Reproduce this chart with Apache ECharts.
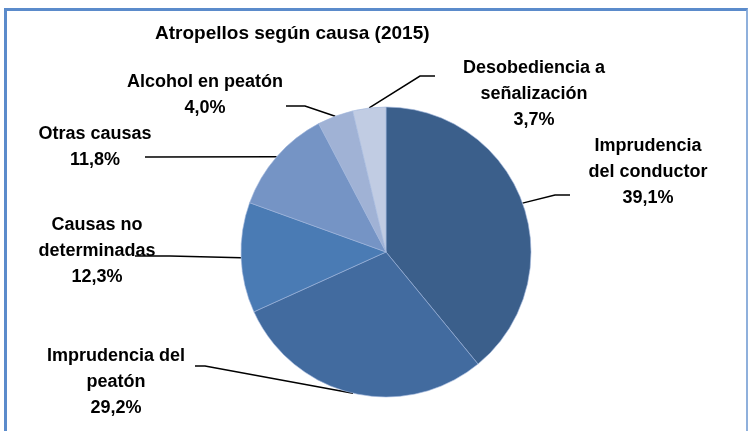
<!DOCTYPE html>
<html>
<head>
<meta charset="utf-8">
<script src="https://cdn.jsdelivr.net/npm/echarts@6/dist/echarts.min.js"></script>
<style>
  html, body { margin: 0; padding: 0; background: #fff; }
  #chart { width: 749px; height: 431px; }
  /* marco azul del gráfico original */
  .frame {
    position: absolute;
    left: 4px;
    top: 8px;
    width: 739px;
    height: 440px;
    border-top: 3px solid #5b8bcb;
    border-left: 3px solid #5b8bcb;
    border-right: 2px solid #8fb0dc;
    pointer-events: none;
  }
</style>
</head>
<body>
<div id="chart"></div>
<div class="frame"></div>
<script>
// --- datos ---
const categories = [
  'Imprudencia\ndel conductor',
  'Imprudencia del\npeatón',
  'Causas no\ndeterminadas',
  'Otras causas',
  'Alcohol en peatón',
  'Desobediencia a\nseñalización'
];
const values = [39.1, 29.2, 12.3, 11.8, 4.0, 3.7];

const colors = ['#3b5f8b', '#426b9f', '#4a7bb4', '#7594c5', '#a0b2d5', '#c1cce3'];

// posición de cada etiqueta (centro del bloque de texto)
const labelPos = [
  [648, 172],
  [116, 382],
  [97, 251],
  [95, 147],
  [205, 95],
  [534, 94]
];
// codo y extremo de cada línea guía
const guideEnds = [
  [[555, 195], [570, 195]],
  [[205, 366], [195, 366]],
  [[170, 256], [135, 256]],
  [[150, 157], [145, 157]],
  [[305, 106], [286, 106]],
  [[420, 76], [435, 76]]
];

const FONT = '"Liberation Sans", Arial, sans-serif';

const chart = echarts.init(document.getElementById('chart'));

chart.setOption({
  backgroundColor: '#fff',
  animation: false,
  title: {
    text: 'Atropellos según causa (2015)',
    left: 150,
    top: 19,
    textStyle: {
      color: '#000',
      fontFamily: FONT,
      fontSize: 19,
      fontWeight: 'bold'
    }
  },
  series: [{
    type: 'pie',
    center: [386, 252],
    radius: 145,
    startAngle: 90,
    clockwise: true,
    data: categories.map((name, i) => ({
      name: name,
      value: values[i],
      itemStyle: { color: colors[i] }
    })),
    itemStyle: {
      borderColor: '#9fb6dc',
      borderWidth: 0.6
    },
    label: {
      show: true,
      position: 'outside',
      color: '#000',
      fontFamily: FONT,
      fontSize: 18,
      fontWeight: 'bold',
      lineHeight: 26,
      align: 'center',
      formatter: p => p.name + '\n' + p.value.toFixed(1).replace('.', ',') + '%'
    },
    labelLine: {
      show: true,
      length: 15,
      length2: 15,
      lineStyle: { color: '#000', width: 1.5 }
    },
    labelLayout: params => {
      const i = params.dataIndex;
      const pos = labelPos[i];
      const out = {
        x: pos[0],
        y: pos[1],
        align: 'center',
        verticalAlign: 'middle'
      };
      // el primer punto lo da ECharts (borde del sector)
      if (params.labelLinePoints && params.labelLinePoints[0]) {
        out.labelLinePoints = [params.labelLinePoints[0]].concat(guideEnds[i]);
      }
      return out;
    }
  }]
});
</script>
</body>
</html>
